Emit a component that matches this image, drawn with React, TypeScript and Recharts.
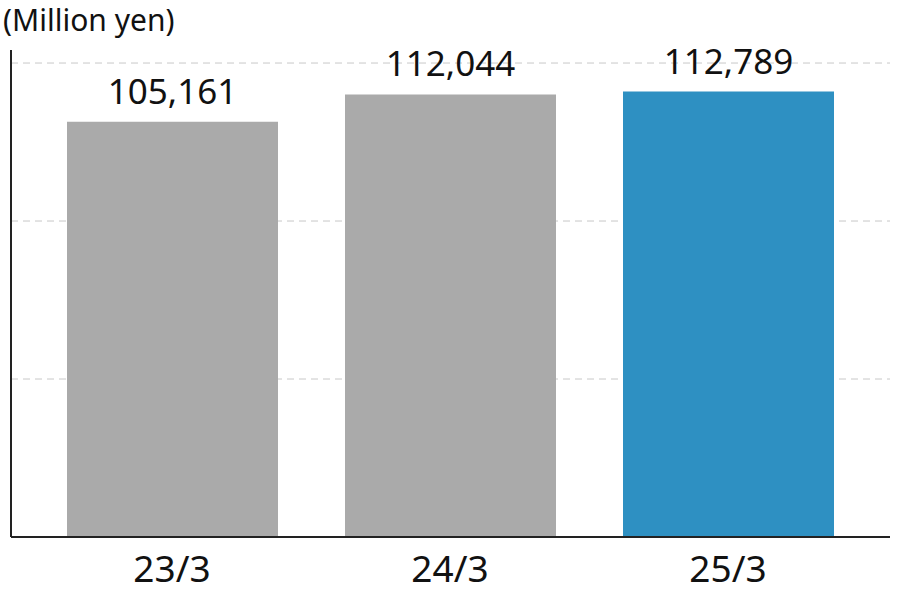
import { BarChart, Bar, XAxis, YAxis, CartesianGrid, Cell, LabelList } from "recharts";

const periods = ["23/3", "24/3", "25/3"];
const sales = [105161, 112044, 112789];
const barColors = ["#aaaaaa", "#aaaaaa", "#2e90c2"];
const yTicks = [0, 40000, 80000, 120000];
const gridValues = [40000, 80000, 120000];

const data = periods.map((p, i) => ({ name: p, value: sales[i], fill: barColors[i] }));

const FONT = "'Noto Sans', 'Open Sans', sans-serif";

const NoTick = () => <g />;

export default function App() {
  return (
    <div style={{ position: "absolute", left: 0, top: 0, width: 900, height: 600, background: "#fff", fontFamily: FONT }}>
      <div style={{ position: "absolute", left: 3, top: 1, fontSize: 30, color: "#111", lineHeight: "38px", whiteSpace: "nowrap" }}>
        (Million yen)
      </div>
      <BarChart
        width={900}
        height={600}
        data={data}
        margin={{ top: 50, right: 10, left: 10, bottom: 0 }}
      >
        <CartesianGrid
          vertical={false}
          horizontalValues={gridValues}
          stroke="#c8c8c8"
          strokeDasharray="7 5"
        />
        <XAxis
          dataKey="name"
          height={63}
          padding={{ left: 22, right: 23 }}
          axisLine={{ stroke: "#222", strokeWidth: 2 }}
          tickLine={false}
          tickSize={0}
          tickMargin={19}
          tick={{ fontSize: 37, fill: "#111", fontFamily: FONT }}
        />
        <YAxis
          width={1}
          domain={[0, 123300]}
          ticks={yTicks}
          interval={0}
          tick={NoTick}
          tickLine={false}
          axisLine={{ stroke: "#222", strokeWidth: 2 }}
        />
        <Bar dataKey="value" barSize={211} isAnimationActive={false}>
          {data.map((d, i) => (
            <Cell key={i} fill={d.fill} />
          ))}
          <LabelList
            dataKey="value"
            position="top"
            offset={18}
            formatter={(v: number) => v.toLocaleString("en-US")}
            style={{ fontSize: 35, fill: "#111", fontFamily: FONT }}
          />
        </Bar>
      </BarChart>
    </div>
  );
}
